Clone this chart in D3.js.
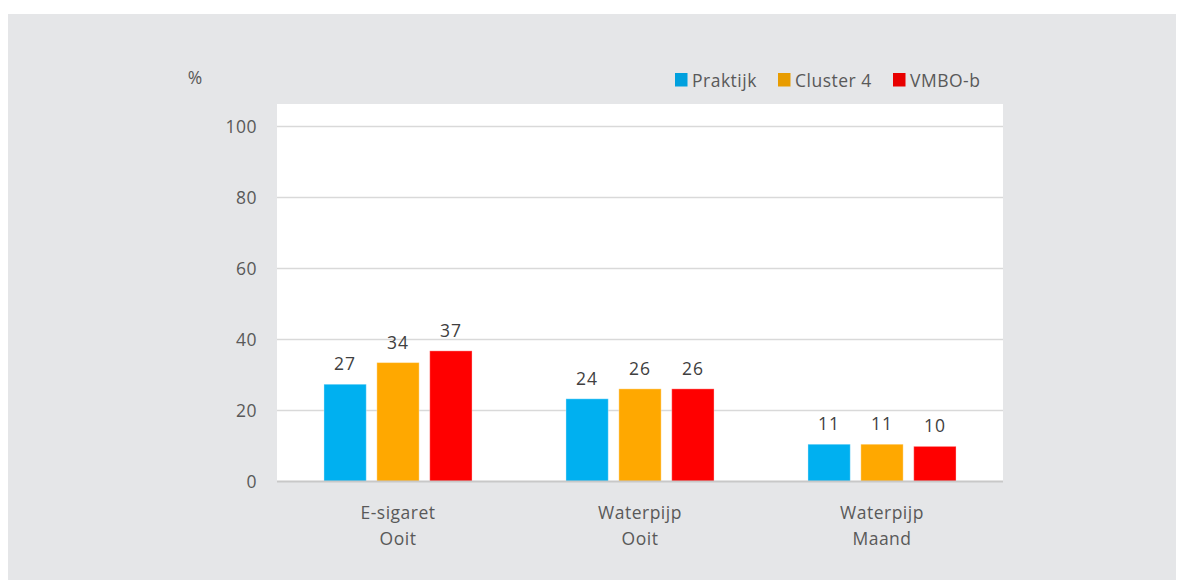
<!DOCTYPE html>
<html>
<head>
<meta charset="utf-8">
<script src="https://cdn.jsdelivr.net/npm/d3@7"></script>
<style>
  body { margin: 0; background: #fff; }
  text { font-family: "Open Sans", sans-serif; }
</style>
</head>
<body>
<script>
const categories = [["E-sigaret", "Ooit"], ["Waterpijp", "Ooit"], ["Waterpijp", "Maand"]];
const series = ["Praktijk", "Cluster 4", "VMBO-b"];
const colors = ["#00b0f0", "#ffa800", "#ff0000"];
const legendColors = ["#00a0de", "#e89c00", "#e80000"];
const praktijk = [27.4, 23.3, 10.5];
const cluster4 = [33.5, 26.1, 10.5];
const vmbob = [36.8, 26.1, 9.9];
const labels = [[27, 34, 37], [24, 26, 26], [11, 11, 10]];
const yTicks = [0, 20, 40, 60, 80, 100];

const values = [praktijk, cluster4, vmbob];

const width = 1177, height = 580;
const plot = { left: 277, right: 1003, top: 104, bottom: 482 };
const fontSize = "17.5px";

const svg = d3.select("body").append("svg")
    .attr("width", width)
    .attr("height", height);

svg.append("rect")
    .attr("x", 8).attr("y", 14)
    .attr("width", 1168).attr("height", 566)
    .attr("fill", "#e5e6e8");

svg.append("rect")
    .attr("x", plot.left).attr("y", plot.top)
    .attr("width", plot.right - plot.left)
    .attr("height", plot.bottom - plot.top)
    .attr("fill", "#ffffff");

const x0 = d3.scaleBand()
    .domain(d3.range(categories.length))
    .range([plot.left, plot.right])
    .paddingInner(0.388)
    .paddingOuter(0.194);

const x1 = d3.scaleBand()
    .domain(d3.range(series.length))
    .range([0, x0.bandwidth()])
    .paddingInner(0.2);

const y = d3.scaleLinear().domain([0, 100]).range([481.5, 126.5]);

// gridlines
svg.append("g")
    .selectAll("line")
    .data(yTicks.filter(t => t > 0))
    .join("line")
    .attr("x1", plot.left).attr("x2", plot.right)
    .attr("y1", d => y(d)).attr("y2", d => y(d))
    .attr("stroke", "#d9d9d9")
    .attr("stroke-width", 1.5);

// y axis labels
const yAxis = d3.axisLeft(y).tickValues(yTicks).tickSize(0).tickPadding(20);
const gy = svg.append("g")
    .attr("transform", `translate(${plot.left},0)`)
    .call(yAxis);
gy.select(".domain").remove();
gy.selectAll("text")
    .attr("fill", "#595959")
    .style("font-size", fontSize)
    .style("letter-spacing", "0.5px");

svg.append("text")
    .attr("x", 195).attr("y", 84)
    .attr("text-anchor", "middle")
    .attr("fill", "#595959")
    .style("font-size", fontSize)
    .text("%");

// bars
const groups = svg.append("g")
    .selectAll("g")
    .data(categories)
    .join("g")
    .attr("transform", (d, i) => `translate(${x0(i)},0)`);

groups.selectAll("rect")
    .data((d, i) => series.map((s, j) => ({ j, v: values[j][i], label: labels[i][j] })))
    .join("rect")
    .attr("x", d => x1(d.j))
    .attr("y", d => y(d.v))
    .attr("width", x1.bandwidth())
    .attr("height", d => y(0) - y(d.v))
    .attr("fill", d => colors[d.j])
    .attr("stroke", "#ffffff")
    .attr("stroke-opacity", 0.35)
    .attr("stroke-width", 1);

groups.selectAll("text")
    .data((d, i) => series.map((s, j) => ({ j, v: values[j][i], label: labels[i][j] })))
    .join("text")
    .attr("x", d => x1(d.j) + x1.bandwidth() / 2)
    .attr("y", d => y(d.v) - 14)
    .attr("text-anchor", "middle")
    .attr("fill", "#404040")
    .style("font-size", fontSize)
    .style("letter-spacing", "1px")
    .text(d => d.label);

// baseline
svg.append("line")
    .attr("x1", plot.left).attr("x2", plot.right)
    .attr("y1", y(0)).attr("y2", y(0))
    .attr("stroke", "#c8c8c8")
    .attr("stroke-width", 2);

// category labels
const xl = svg.append("g")
    .selectAll("text")
    .data(categories)
    .join("text")
    .attr("x", (d, i) => x0(i) + x0.bandwidth() / 2)
    .attr("y", 519)
    .attr("text-anchor", "middle")
    .attr("fill", "#595959")
    .style("font-size", fontSize)
    .style("letter-spacing", "0.5px");
xl.selectAll("tspan")
    .data(d => d)
    .join("tspan")
    .attr("x", function () { return d3.select(this.parentNode).attr("x"); })
    .attr("dy", (d, i) => i === 0 ? 0 : 26)
    .text(d => d);

// legend
const legendX = [675, 778, 893];
const legend = svg.append("g")
    .selectAll("g")
    .data(series)
    .join("g")
    .attr("transform", (d, i) => `translate(${legendX[i]},73)`);
legend.append("rect")
    .attr("width", 12.5).attr("height", 13.5)
    .attr("fill", (d, i) => legendColors[i]);
legend.append("text")
    .attr("x", 17).attr("y", 13.5)
    .attr("fill", "#595959")
    .style("font-size", fontSize)
    .style("letter-spacing", "0.5px")
    .text(d => d);
</script>
</body>
</html>
